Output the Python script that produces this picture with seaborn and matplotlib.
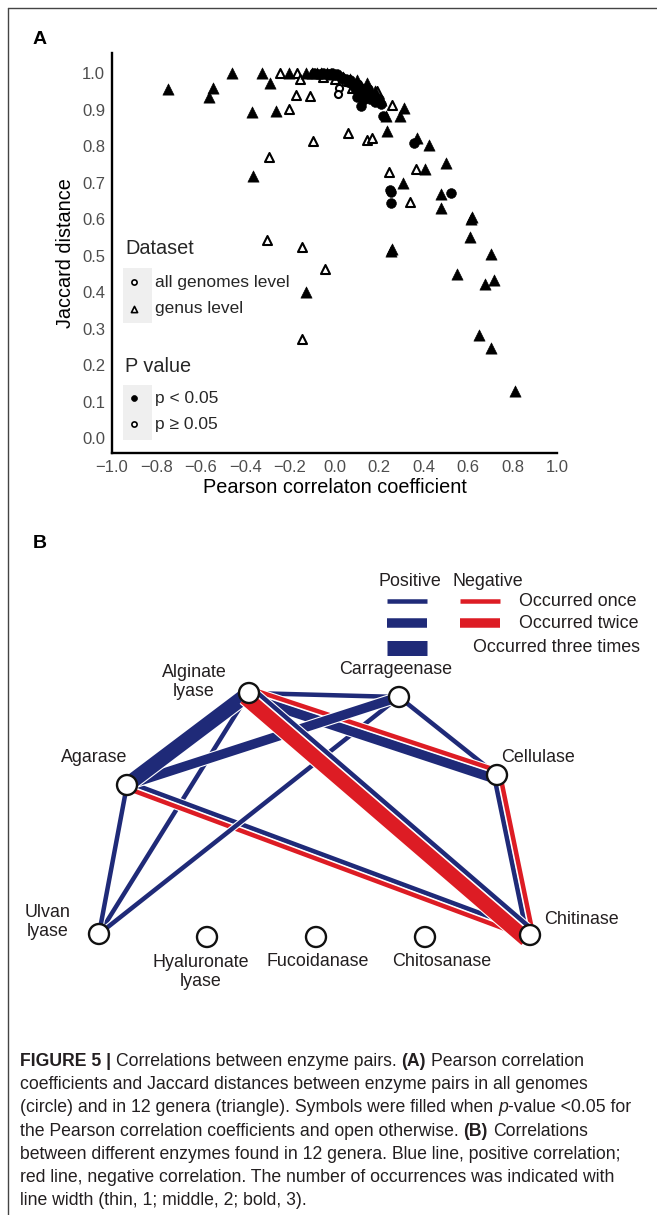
import matplotlib
matplotlib.use('Agg')
import numpy as np
import pandas as pd
import matplotlib.pyplot as plt
import seaborn as sns
from matplotlib.patches import Circle, Rectangle
import matplotlib.patheffects as pe

# ---------------- Panel A data ----------------
genus_sig_r = [-0.747, -0.545, -0.564, -0.462, -0.325, -0.291, -0.204, -0.128, -0.369, -0.262,
               -0.365, -0.130, -0.100, -0.080, -0.060, -0.035, -0.015, 0.040, 0.070, 0.100,
               0.147, 0.120, 0.180, 0.210, 0.312, 0.230, 0.294, 0.234, 0.369, 0.426,
               0.499, 0.407, 0.306, 0.480, 0.480, 0.617, 0.612, 0.609, 0.254, 0.258,
               0.703, 0.552, 0.676, 0.717, 0.651, 0.703, 0.811]
genus_sig_jd = [0.957, 0.960, 0.934, 1.000, 1.000, 0.973, 1.000, 1.000, 0.894, 0.897,
                0.717, 0.400, 1.000, 1.000, 1.000, 1.000, 0.998, 0.990, 0.985, 0.980,
                0.974, 0.965, 0.950, 0.925, 0.903, 0.883, 0.883, 0.842, 0.822, 0.803,
                0.754, 0.738, 0.699, 0.670, 0.630, 0.605, 0.600, 0.550, 0.512, 0.517,
                0.505, 0.450, 0.421, 0.432, 0.281, 0.248, 0.128]
genus_ns_r = [-0.245, -0.170, -0.155, -0.173, -0.110, -0.204, 0.059, -0.098, 0.145, 0.170,
              -0.294, -0.305, -0.148, -0.043, -0.148, 0.245, 0.365, 0.341, 0.080, 0.192,
              0.258, -0.050, 0.000]
genus_ns_jd = [1.000, 1.000, 0.985, 0.939, 0.937, 0.902, 0.837, 0.814, 0.816, 0.822,
               0.769, 0.542, 0.523, 0.462, 0.272, 0.730, 0.737, 0.646, 0.958, 0.950,
               0.913, 0.990, 0.985]
all_sig_r = [-0.090, -0.070, -0.050, -0.030, -0.010, 0.000, 0.010, 0.030, 0.050, 0.060,
             0.070, 0.080, 0.090, 0.100, 0.110, 0.120, 0.130, 0.140, 0.150, 0.160,
             0.170, 0.180, 0.100, 0.130, 0.200, 0.210, 0.119, 0.220, 0.357, 0.248,
             0.252, 0.522, 0.256]
all_sig_jd = [1.000, 0.998, 1.000, 0.997, 1.000, 0.995, 0.998, 0.990, 0.985, 0.975,
              0.980, 0.970, 0.960, 0.970, 0.950, 0.960, 0.945, 0.940, 0.955, 0.930,
              0.940, 0.920, 0.935, 0.925, 0.930, 0.915, 0.909, 0.883, 0.809, 0.680,
              0.675, 0.672, 0.643]
all_ns_r = [0.022, 0.017, 0.045]
all_ns_jd = [0.958, 0.943, 0.975]

x_ticks = [-1.0, -0.8, -0.6, -0.4, -0.2, 0.0, 0.2, 0.4, 0.6, 0.8, 1.0]
x_tick_labels = ['\u22121.0', '\u22120.8', '\u22120.6', '\u22120.4', '\u22120.2',
                 '0.0', '0.2', '0.4', '0.6', '0.8', '1.0']
y_ticks = [0.0, 0.1, 0.2, 0.3, 0.4, 0.5, 0.6, 0.7, 0.8, 0.9, 1.0]
y_tick_labels = ['0.0', '0.1', '0.2', '0.3', '0.4', '0.5', '0.6', '0.7', '0.8', '0.9', '1.0']
dataset_labels = ['all genomes level', 'genus level']
pvalue_labels = ['p < 0.05', 'p \u2265 0.05']

# ---------------- Panel B data ----------------
enzymes = ['Alginate\nlyase', 'Carrageenase', 'Agarase', 'Cellulase', 'Ulvan\nlyase',
           'Chitinase', 'Hyaluronate\nlyase', 'Fucoidanase', 'Chitosanase']
edge_from = ['Alginate\nlyase', 'Alginate\nlyase', 'Alginate\nlyase', 'Alginate\nlyase',
             'Alginate\nlyase', 'Agarase', 'Agarase', 'Agarase', 'Carrageenase',
             'Carrageenase', 'Cellulase']
edge_to = ['Agarase', 'Carrageenase', 'Cellulase', 'Chitinase', 'Ulvan\nlyase',
           'Carrageenase', 'Ulvan\nlyase', 'Chitinase', 'Ulvan\nlyase', 'Cellulase',
           'Chitinase']
edge_pos = [3, 1, 2, 1, 1, 2, 1, 1, 1, 1, 1]
edge_neg = [0, 0, 1, 3, 0, 0, 0, 1, 0, 0, 1]
legend_types = ['Positive', 'Negative']
occ_labels = ['Occurred once', 'Occurred twice', 'Occurred three times']

# ---------------- layout / style ----------------
W, H = 657, 1215
PX = 0.72  # points per pixel at dpi 100
BLUE = '#1f2a78'
RED = '#dd1c24'
TXT = '#231f20'
BFS = 12.9

sns.set_theme(style='white')
plt.rcParams['font.family'] = ['Liberation Sans', 'DejaVu Sans']

fig = plt.figure(figsize=(W / 100, H / 100), dpi=100)
fig.patch.set_facecolor('white')


def frac(x0, y0, x1, y1):
    return [x0 / W, 1 - y1 / H, (x1 - x0) / W, (y1 - y0) / H]


ax = fig.add_axes(frac(112, 53, 557, 453))

frames = []
for ds, sig, xs, ys in [('genus', False, genus_ns_r, genus_ns_jd),
                        ('all', False, all_ns_r, all_ns_jd),
                        ('genus', True, genus_sig_r, genus_sig_jd),
                        ('all', True, all_sig_r, all_sig_jd)]:
    frames.append(pd.DataFrame({'r': xs, 'jd': ys, 'dataset': ds, 'sig': sig}))
df = pd.concat(frames, ignore_index=True)

for (ds, sig) in [('genus', False), ('all', False), ('genus', True), ('all', True)]:
    sub = df[(df['dataset'] == ds) & (df['sig'] == sig)]
    if ds == 'genus':
        mk, s = '^', (66 if sig else 42)
    else:
        mk, s = 'o', (50 if sig else 26)
    sns.scatterplot(data=sub, x='r', y='jd', ax=ax, marker=mk, s=s,
                    color='black' if sig else 'white', edgecolor='black',
                    linewidth=0.4 if sig else 1.5, legend=False, zorder=3)

ax.set_xlim(-1, 1)
ax.set_ylim(-0.041, 1.055)
ax.set_xticks(x_ticks)
ax.set_xticklabels(x_tick_labels)
ax.set_yticks(y_ticks)
ax.set_yticklabels(y_tick_labels)
for sp in ['top', 'right']:
    ax.spines[sp].set_visible(False)
for sp in ['left', 'bottom']:
    ax.spines[sp].set_linewidth(1.7)
    ax.spines[sp].set_color('black')
ax.tick_params(axis='both', length=3.5, width=1.0, color='#333333',
               labelcolor='#4d4d4d', labelsize=12, pad=1.5, direction='out')
ax.set_xlabel('Pearson correlaton coefficient', fontsize=14.3, color='black', labelpad=2)
ax.set_ylabel('Jaccard distance', fontsize=14.3, color='black', labelpad=5)
ax.grid(False)

# overlay axes in pixel coordinates
bg = fig.add_axes([0, 0, 1, 1])
bg.set_xlim(0, W)
bg.set_ylim(H, 0)
bg.axis('off')
bg.patch.set_alpha(0)

# figure border
bg.plot([8, 8], [8, H], color='#444444', lw=1.0)
bg.plot([8, W], [8, 8], color='#444444', lw=1.0)

bg.text(40, 40, 'A', fontsize=14, weight='bold', ha='center', va='center', color='black')
bg.text(40, 543, 'B', fontsize=14, weight='bold', ha='center', va='center', color='black')

# panel A legend
bg.text(125, 248, 'Dataset', fontsize=14.3, ha='left', va='center')
bg.add_patch(Rectangle((123, 268), 29, 55, facecolor='#efefef', edgecolor='none'))
bg.scatter([134], [282], marker='o', s=14, facecolor='white', edgecolor='black', linewidth=1.2)
bg.scatter([134], [309], marker='^', s=20, facecolor='white', edgecolor='black', linewidth=1.2)
bg.text(155, 282, dataset_labels[0], fontsize=12.5, ha='left', va='center')
bg.text(155, 309, dataset_labels[1], fontsize=12.5, ha='left', va='center')

bg.text(125, 367, 'P value', fontsize=14.3, ha='left', va='center')
bg.add_patch(Rectangle((123, 385), 29, 55, facecolor='#efefef', edgecolor='none'))
bg.scatter([134], [398], marker='o', s=18, facecolor='black', edgecolor='black', linewidth=0.5)
bg.scatter([134], [424], marker='o', s=14, facecolor='white', edgecolor='black', linewidth=1.2)
bg.text(155, 398, pvalue_labels[0], fontsize=12.5, ha='left', va='center')
bg.text(155, 424, pvalue_labels[1], fontsize=12.5, ha='left', va='center')

# ---------------- Panel B network ----------------
node_x = [249, 399, 127, 497, 99, 530, 207, 316, 425]
node_y = [693, 697, 785, 775, 934, 935, 937, 937, 937]
pos = dict(zip(enzymes, zip(node_x, node_y)))
red_side = [0, 0, -1, 1, 0, 0, 0, 1, 0, 0, -1]
width_px = {1: 4.5, 2: 9.5, 3: 15.0}


def seg(x0, y0, x1, y1, w, color, z):
    bg.plot([x0, x1], [y0, y1], color=color, lw=w * PX, solid_capstyle='butt', zorder=z,
            path_effects=[pe.Stroke(linewidth=w * PX + 1.6, foreground='white'), pe.Normal()])


order = np.argsort([max(p, n) for p, n in zip(edge_pos, edge_neg)], kind='stable')
for i in order:
    a, b, npos, nneg, side = edge_from[i], edge_to[i], edge_pos[i], edge_neg[i], red_side[i]
    (x0, y0), (x1, y1) = pos[a], pos[b]
    dx, dy = x1 - x0, y1 - y0
    L = np.hypot(dx, dy)
    nx, ny = -dy / L, dx / L
    if npos and nneg:
        wb, wr = width_px[npos], width_px[nneg]
        s = (wb + wr) / 2 + 1.6
        ob, orr = -side * s / 2, side * s / 2
        seg(x0 + nx * ob, y0 + ny * ob, x1 + nx * ob, y1 + ny * ob, wb, BLUE, 2)
        seg(x0 + nx * orr, y0 + ny * orr, x1 + nx * orr, y1 + ny * orr, wr, RED, 2)
    elif npos:
        seg(x0, y0, x1, y1, width_px[npos], BLUE, 2)
    elif nneg:
        seg(x0, y0, x1, y1, width_px[nneg], RED, 2)

for x, y in zip(node_x, node_y):
    bg.add_patch(Circle((x, y), 10, facecolor='white', edgecolor='#111111', lw=1.7, zorder=5))

label_xy = [(194, 682), (396, 670), (94, 757), (538, 757), (48, 922),
            (581, 919), (201, 972), (318, 962), (442, 962)]
for name, (lx, ly) in zip(enzymes, label_xy):
    bg.text(lx, ly, name, fontsize=BFS, ha='center', va='center', color=TXT,
            linespacing=1.1, zorder=6)

# network legend
bg.text(410, 581, legend_types[0], fontsize=BFS, ha='center', va='center', color=TXT)
bg.text(488, 581, legend_types[1], fontsize=BFS, ha='center', va='center', color=TXT)
rows_y = [601, 623, 648]
for k, yy in enumerate(rows_y):
    w = width_px[k + 1]
    bg.plot([387, 427], [yy, yy], color=BLUE, lw=w * PX, solid_capstyle='butt')
    if k < 2:
        bg.plot([460, 500], [yy, yy], color=RED, lw=w * PX, solid_capstyle='butt')
bg.text(519, 601, occ_labels[0], fontsize=BFS, ha='left', va='center', color=TXT)
bg.text(519, 623, occ_labels[1], fontsize=BFS, ha='left', va='center', color=TXT)
bg.text(473, 648, occ_labels[2], fontsize=BFS, ha='left', va='center', color=TXT)

# ---------------- caption ----------------
caption = [
    [('FIGURE 5 |', 'b'), (' Correlations between enzyme pairs. ', 'n'), ('(A)', 'b'),
     (' Pearson correlation', 'n')],
    [('coefficients and Jaccard distances between enzyme pairs in all genomes', 'n')],
    [('(circle) and in 12 genera (triangle). Symbols were filled when ', 'n'), ('p', 'i'),
     ('-value <0.05 for', 'n')],
    [('the Pearson correlation coefficients and open otherwise. ', 'n'), ('(B)', 'b'),
     (' Correlations', 'n')],
    [('between different enzymes found in 12 genera. Blue line, positive correlation;', 'n')],
    [('red line, negative correlation. The number of occurrences was indicated with', 'n')],
    [('line width (thin, 1; middle, 2; bold, 3).', 'n')],
]
renderer = fig.canvas.get_renderer()
CAP = 12.7
probe1 = bg.text(0, 0, 'x x', fontsize=CAP)
probe2 = bg.text(0, 0, 'xx', fontsize=CAP)
space_w = probe1.get_window_extent(renderer).width - probe2.get_window_extent(renderer).width
probe1.remove()
probe2.remove()
for li, line in enumerate(caption):
    x = 20
    y = 1066 + 23.2 * li
    for txt, st in line:
        lead = len(txt) - len(txt.lstrip(' '))
        trail = len(txt) - len(txt.rstrip(' '))
        x += lead * space_w
        core = txt.strip(' ')
        kw = {}
        if st == 'b':
            kw['weight'] = 'bold'
        elif st == 'i':
            kw['style'] = 'italic'
        t = bg.text(x, y, core, fontsize=CAP, ha='left', va='baseline', color=TXT, **kw)
        x += t.get_window_extent(renderer).width + trail * space_w

fig.savefig('out.png', dpi=100, facecolor='white')
